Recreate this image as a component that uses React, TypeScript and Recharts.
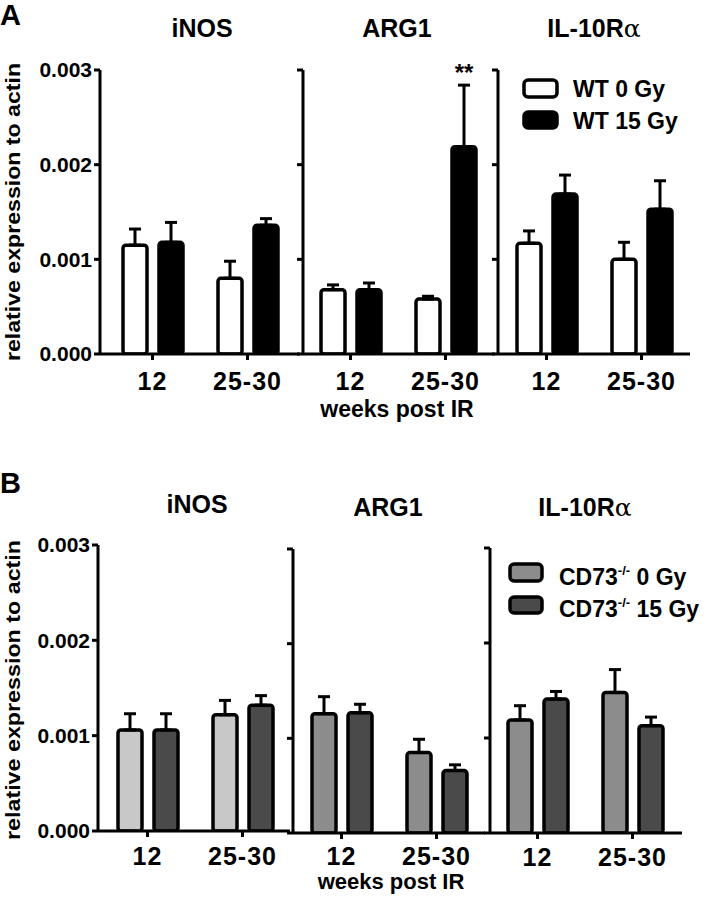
import React from 'react';
import { BarChart, Bar, XAxis, YAxis, ErrorBar } from 'recharts';

const FONT = "'Liberation Sans', Arial, Helvetica, sans-serif";

const weeks = ['12', '25-30'];
const genes = ['iNOS', 'ARG1', 'IL-10R'];
const yTicks = [0, 0.001, 0.002, 0.003];

// panel A: WT mice, per gene [12 wk, 25-30 wk]
const wt0Mean = [[0.00115, 0.0008], [0.00068, 0.00058], [0.00117, 0.001]];
const wt0Sem = [[0.00017, 0.00018], [0.00005, 0.00003], [0.00013, 0.00018]];
const wt15Mean = [[0.00118, 0.00136], [0.00068, 0.00219], [0.00169, 0.00153]];
const wt15Sem = [[0.00021, 0.00007], [0.00007, 0.00065], [0.0002, 0.0003]];
const wtSig = [['', ''], ['', '**'], ['', '']];

// panel B: CD73-/- mice
const ko0Mean = [[0.00106, 0.00122], [0.00126, 0.00085], [0.00119, 0.00148]];
const ko0Sem = [[0.00017, 0.00015], [0.00018, 0.00014], [0.00015, 0.00024]];
const ko15Mean = [[0.00106, 0.00132], [0.00127, 0.00066], [0.00141, 0.00113]];
const ko15Sem = [[0.00017, 0.0001], [0.00009, 0.00006], [0.00008, 0.00009]];
const koSig = [['', ''], ['', ''], ['', '']];

const ko0Fill = ['#c8c8c8', '#8c8c8c', '#8c8c8c'];
const ko15Fill = '#4a4a4a';

// subplot frames (axis x, plot top, plot height, plot width, padding)
const framesA = [
  { axisX: 100, top: 70, plotH: 284, plotW: 200, padL: 5, padR: 5, tm: 12 },
  { axisX: 303, top: 70, plotH: 284, plotW: 192, padL: 0, padR: 2, tm: 12 },
  { axisX: 498, top: 70, plotH: 284, plotW: 192, padL: 1, padR: 1, tm: 12 },
];
const framesB = [
  { axisX: 98, top: 545, plotH: 286, plotW: 192, padL: 2, padR: 0, tm: 10 },
  { axisX: 293, top: 549, plotH: 284, plotW: 192, padL: 1, padR: 1, tm: 8 },
  { axisX: 490, top: 548, plotH: 285, plotW: 192, padL: 0, padR: 2, tm: 9 },
];

const axisStyle = { stroke: '#000', strokeWidth: 3 };

interface SubProps {
  frame: { axisX: number; top: number; plotH: number; plotW: number; padL: number; padR: number; tm: number };
  m0: number[];
  s0: number[];
  m15: number[];
  s15: number[];
  sig: string[];
  fill0: string;
  fill15: string;
  first: boolean;
}

const Sub: React.FC<SubProps> = ({ frame, m0, s0, m15, s15, sig, fill0, fill15, first }) => {
  const yW = first ? 100 : 12;
  const mt = 24;
  const data = weeks.map((w, i) => ({
    week: w,
    a: m0[i],
    ae: [0, s0[i]],
    b: m15[i],
    be: [0, s15[i]],
  }));

  // significance stars sit just above the error bar cap
  const sigLabel = (p: any) => {
    const i = p.index ?? data.findIndex((d) => d.b === p.value);
    if (!sig[i]) return null;
    const semPx = (p.height * s15[i]) / p.value;
    return (
      <text x={p.x + p.width / 2} y={p.y - semPx - 4} textAnchor="middle" fontSize={24}
        fontWeight="bold" fontFamily={FONT} fill="#000">
        {sig[i]}
      </text>
    );
  };

  return (
    <div style={{ position: 'absolute', left: frame.axisX - yW, top: frame.top - mt }}>
      <BarChart
        width={yW + frame.plotW + 4}
        height={mt + frame.plotH + 50}
        data={data}
        margin={{ top: mt, right: 4, left: 0, bottom: 0 }}
        barSize={24}
        barGap={12}
      >
        <XAxis
          dataKey="week"
          height={50}
          interval={0}
          padding={{ left: frame.padL, right: frame.padR }}
          axisLine={axisStyle}
          tickLine={axisStyle}
          tickSize={6}
          tickMargin={frame.tm}
          tick={{ fill: '#000', fontSize: 25, fontWeight: 'bold', fontFamily: FONT, letterSpacing: 1 }}
        />
        <YAxis
          width={yW}
          domain={[0, 0.003]}
          ticks={yTicks}
          allowDataOverflow
          axisLine={axisStyle}
          tickLine={axisStyle}
          tickSize={6}
          tickMargin={2}
          tickFormatter={(v: number) => (first ? v.toFixed(3) : '')}
          tick={{ fill: '#000', fontSize: 21, fontWeight: 'bold', fontFamily: FONT }}
        />
        <Bar dataKey="a" fill={fill0} stroke="#000" strokeWidth={3.5} radius={3} isAnimationActive={false}>
          <ErrorBar dataKey="ae" width={6} strokeWidth={3} stroke="#000" direction="y" />
        </Bar>
        <Bar dataKey="b" fill={fill15} stroke="#000" strokeWidth={3.5} radius={3} isAnimationActive={false}
          label={sigLabel}>
          <ErrorBar dataKey="be" width={6} strokeWidth={3} stroke="#000" direction="y" />
        </Bar>
      </BarChart>
    </div>
  );
};

const txt = { fontFamily: FONT, fontWeight: 'bold' as const, fill: '#000' };

const GeneTitle = ({ x, y, name }: { x: number; y: number; name: string }) => (
  <text x={x} y={y} textAnchor="middle" fontSize={25} {...txt}>
    {name}
    {name === 'IL-10R' && (
      <tspan fontFamily="'DejaVu Serif', serif" fontWeight="normal">α</tspan>
    )}
  </text>
);

export default function App() {
  const titleA = [{ x: 202, y: 37 }, { x: 397, y: 37 }, { x: 594, y: 37 }];
  const titleB = [{ x: 197, y: 513 }, { x: 388, y: 516 }, { x: 585, y: 516 }];
  return (
    <div style={{ position: 'absolute', left: 0, top: 0, width: 708, height: 899, background: '#fff' }}>
      <svg width={708} height={899} style={{ position: 'absolute', left: 0, top: 0 }}>
        <text x={0} y={25} fontSize={29} {...txt}>A</text>
        <text x={0} y={493} fontSize={29} {...txt}>B</text>
        {genes.map((g, i) => (
          <GeneTitle key={'a' + g} x={titleA[i].x} y={titleA[i].y} name={g} />
        ))}
        {genes.map((g, i) => (
          <GeneTitle key={'b' + g} x={titleB[i].x} y={titleB[i].y} name={g} />
        ))}
        <text transform="translate(20,212) rotate(-90)" textAnchor="middle" fontSize={21}
          textLength={298} lengthAdjust="spacingAndGlyphs" {...txt}>
          relative expression to actin
        </text>
        <text transform="translate(20,690) rotate(-90)" textAnchor="middle" fontSize={21}
          textLength={300} lengthAdjust="spacingAndGlyphs" {...txt}>
          relative expression to actin
        </text>
        <text x={397} y={417} textAnchor="middle" fontSize={23} {...txt}>weeks post IR</text>
        <text x={391} y={889} textAnchor="middle" fontSize={22} {...txt}>weeks post IR</text>

        {/* legend A */}
        <rect x={524} y={80} width={33} height={17} rx={4} fill="#fff" stroke="#000" strokeWidth={3.5} />
        <rect x={524} y={112} width={33} height={16} rx={4} fill="#000" stroke="#000" strokeWidth={3.5} />
        <text x={573} y={97} fontSize={23} {...txt}>WT 0 Gy</text>
        <text x={573} y={129} fontSize={23} {...txt}>WT 15 Gy</text>

        {/* legend B */}
        <rect x={510} y={564} width={32} height={17} rx={4} fill={ko0Fill[1]} stroke="#000" strokeWidth={3.5} />
        <rect x={510} y={597} width={32} height={16} rx={4} fill={ko15Fill} stroke="#000" strokeWidth={3.5} />
        <text x={559} y={585} fontSize={23} {...txt}>
          CD73<tspan fontSize={13} dy={-10}>-/-</tspan><tspan dy={10}> 0 Gy</tspan>
        </text>
        <text x={559} y={617} fontSize={23} {...txt}>
          CD73<tspan fontSize={13} dy={-10}>-/-</tspan><tspan dy={10}> 15 Gy</tspan>
        </text>
      </svg>

      {genes.map((g, i) => (
        <Sub key={'A' + g} frame={framesA[i]} m0={wt0Mean[i]} s0={wt0Sem[i]} m15={wt15Mean[i]}
          s15={wt15Sem[i]} sig={wtSig[i]} fill0="#fff" fill15="#000" first={i === 0} />
      ))}
      {genes.map((g, i) => (
        <Sub key={'B' + g} frame={framesB[i]} m0={ko0Mean[i]} s0={ko0Sem[i]} m15={ko15Mean[i]}
          s15={ko15Sem[i]} sig={koSig[i]} fill0={ko0Fill[i]} fill15={ko15Fill} first={i === 0} />
      ))}
    </div>
  );
}
